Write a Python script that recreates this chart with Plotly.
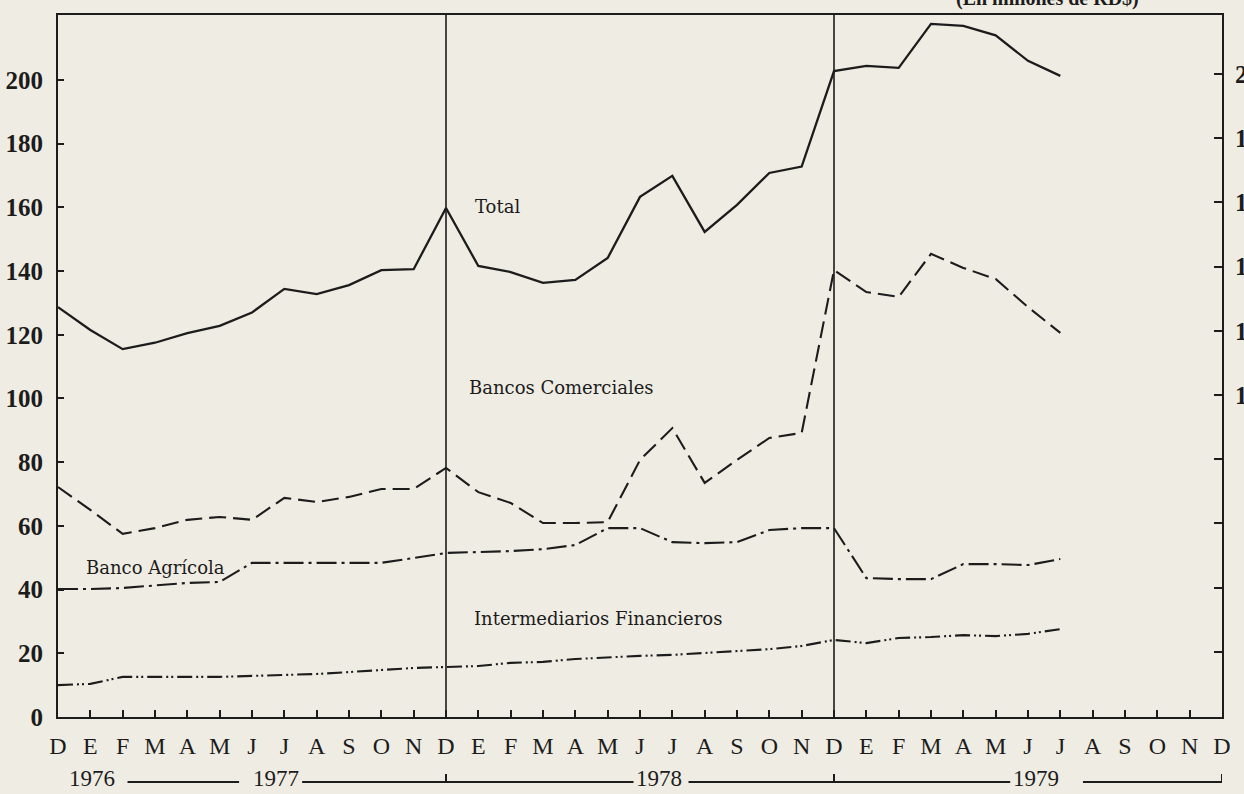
import plotly.graph_objects as go

months = ["D", "E", "F", "M", "A", "M", "J", "J", "A", "S", "O", "N",
          "D", "E", "F", "M", "A", "M", "J", "J", "A", "S", "O", "N",
          "D", "E", "F", "M", "A", "M", "J", "J", "A", "S", "O", "N", "D"]

total = [128.7, 121.5, 115.5, 117.5, 120.5, 122.8, 127.0, 134.4, 132.8, 135.6, 140.3, 140.6,
         159.8, 141.6, 139.7, 136.3, 137.2, 144.1, 163.3, 169.9, 152.3, 160.8, 170.8, 172.8,
         202.8, 204.4, 203.8, 217.6, 217.0, 214.0, 206.0, 201.3]

bancos_comerciales = [72.2, 65.0, 57.5, 59.3, 61.9, 62.8, 61.9, 68.8, 67.5, 69.1, 71.6, 71.6,
                      78.2, 70.6, 67.2, 60.9, 60.9, 61.2, 80.7, 90.7, 73.5, 80.7, 87.6, 89.2,
                      140.3, 133.4, 131.9, 145.4, 141.0, 137.5, 128.7, 120.6]

banco_agricola = [40.2, 40.2, 40.5, 41.4, 42.1, 42.4, 48.4, 48.4, 48.4, 48.4, 48.4, 49.9,
                  51.5, 51.8, 52.1, 52.7, 54.0, 59.3, 59.3, 54.9, 54.6, 54.9, 58.7, 59.3,
                  59.3, 43.6, 43.3, 43.3, 48.0, 48.0, 47.7, 49.6]

intermediarios = [10.0, 10.4, 12.6, 12.6, 12.6, 12.6, 12.9, 13.2, 13.5, 14.1, 14.8, 15.4,
                  15.7, 16.0, 17.0, 17.3, 18.2, 18.8, 19.2, 19.5, 20.1, 20.7, 21.3, 22.3,
                  24.2, 23.2, 24.8, 25.1, 25.7, 25.4, 26.1, 27.6]

y_ticks = [0, 20, 40, 60, 80, 100, 120, 140, 160, 180, 200]
right_ticks = [20, 40, 60, 80, 100, 120, 140, 160, 180, 200]
right_ticktext = ["", "", "", "", "100", "120", "140", "160", "180", "200"]

years = ["1976", "1977", "1978", "1979"]
year_pos = [1.05, 6.75, 18.6, 30.25]
year_segments = [(2.15, 5.6), (7.55, 17.8), (19.5, 29.45), (31.7, 36.0)]
year_marks = [12, 24, 36]
divider_months = [12, 24]

INK = "#1c1c1c"
PAPER = "#efece3"
SERIF = "Liberation Serif, Times New Roman, serif"
LABEL_FONT = "DejaVu Serif, serif"

x_idx = list(range(len(total)))

fig = go.Figure()
fig.add_trace(go.Scatter(x=x_idx, y=total, mode="lines", name="Total",
                         line=dict(color=INK, width=2.3)))
fig.add_trace(go.Scatter(x=x_idx, y=bancos_comerciales, mode="lines", name="Bancos Comerciales",
                         line=dict(color=INK, width=2.1, dash="17px,7px")))
fig.add_trace(go.Scatter(x=x_idx, y=banco_agricola, mode="lines", name="Banco Agrícola",
                         line=dict(color=INK, width=2.1, dash="20px,5px,3px,5px")))
fig.add_trace(go.Scatter(x=x_idx, y=intermediarios, mode="lines", name="Intermediarios Financieros",
                         line=dict(color=INK, width=2.1, dash="15px,4px,2px,3px,2px,4px")))
fig.add_trace(go.Scatter(x=[0], y=[0], yaxis="y2", mode="markers",
                         marker=dict(opacity=0), hoverinfo="skip", showlegend=False))

for m in divider_months:
    fig.add_shape(type="line", xref="x", yref="paper", x0=m, x1=m, y0=0, y1=1,
                  line=dict(color=INK, width=1.6))

# year line under the month labels
yl = -0.0926
yt = -0.0812
for a, b in year_segments:
    fig.add_shape(type="line", xref="x", yref="paper", x0=a, x1=b, y0=yl, y1=yl,
                  line=dict(color=INK, width=2))
for m in year_marks:
    fig.add_shape(type="line", xref="x", yref="paper", x0=m, x1=m, y0=yl, y1=yt,
                  line=dict(color=INK, width=2))
for t, p in zip(years, year_pos):
    fig.add_annotation(x=p, y=-0.0883, xref="x", yref="paper", text=t, showarrow=False,
                       font=dict(family=SERIF, size=23, color=INK), yanchor="middle")

labels = [("Total", 12.85, 160.4),
          ("Bancos Comerciales", 12.65, 103.5),
          ("Banco Agrícola", 0.8, 46.8),
          ("Intermediarios Financieros", 12.8, 31.0)]
for text, xv, yv in labels:
    fig.add_annotation(x=xv, y=yv, xref="x", yref="y", text=text, showarrow=False,
                       xanchor="left", yanchor="middle",
                       font=dict(family=LABEL_FONT, size=18, color=INK))

fig.add_annotation(x=(1047 - 58) / 32.33, y=1.0043, xref="x", yref="paper",
                   text="<b>(En millones de RD$)</b>",
                   showarrow=False, xanchor="center", yanchor="bottom",
                   font=dict(family=SERIF, size=20, color=INK))

fig.update_layout(
    width=1244, height=794,
    margin=dict(l=58, r=22, t=15, b=77, autoexpand=False),
    paper_bgcolor=PAPER, plot_bgcolor=PAPER,
    showlegend=False,
    xaxis=dict(range=[0, 36], tickmode="array", tickvals=list(range(37)), ticktext=months,
               ticks="inside", ticklen=7, tickwidth=1.6, tickcolor=INK,
               showline=True, linecolor=INK, linewidth=2.2, mirror=True,
               showgrid=False, zeroline=False, ticklabelstandoff=6, automargin=False,
               tickfont=dict(family=SERIF, size=24, color=INK)),
    yaxis=dict(range=[0, 220.4], tickmode="array", tickvals=y_ticks,
               ticks="inside", ticklen=6, tickwidth=1.6, tickcolor=INK,
               showline=True, linecolor=INK, linewidth=2.2,
               showgrid=False, zeroline=False, ticklabelstandoff=8, automargin=False,
               tickfont=dict(family=SERIF, size=25, color=INK, weight="bold")),
    yaxis2=dict(overlaying="y", side="right", range=[-0.3, 218.4], tickmode="array",
                tickvals=right_ticks, ticktext=right_ticktext,
                ticks="inside", ticklen=8, tickwidth=1.6, tickcolor=INK,
                showline=True, linecolor=INK, linewidth=2.2,
                showgrid=False, zeroline=False, ticklabelstandoff=6, automargin=False,
                tickfont=dict(family=SERIF, size=25, color=INK, weight="bold")),
)

fig.write_html("out.html", config={"displayModeBar": False},
               post_script="document.body.style.margin='0';document.body.style.overflow='hidden';")
